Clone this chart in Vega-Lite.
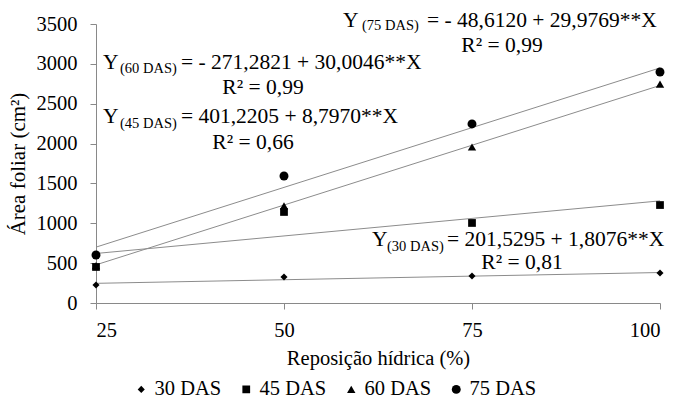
{
  "$schema": "https://vega.github.io/schema/vega-lite/v6.json",
  "width": 564,
  "height": 279,
  "autosize": {"type": "none"},
  "padding": {"left": 96, "top": 24, "right": 18, "bottom": 95},
  "background": "white",
  "config": {
    "view": {"stroke": null},
    "font": "Liberation Serif",
    "text": {"font": "Liberation Serif", "color": "black"},
    "legend": {"labelFont": "Liberation Serif", "labelFontSize": 20.5, "labelColor": "black"},
    "axis": {"grid": false, "labelFont": "Liberation Serif", "titleFont": "Liberation Serif", "labelColor": "black", "titleColor": "black", "titleFontWeight": "normal", "domainColor": "#898989", "tickColor": "#898989", "tickSize": 6}
  },
  "datasets": {
    "pontos": [
      {"rep": 25, "area": 470, "serie": "60 DAS"},
      {"rep": 50, "area": 1217, "serie": "60 DAS"},
      {"rep": 75, "area": 1957, "serie": "60 DAS"},
      {"rep": 100, "area": 2745, "serie": "60 DAS"},
      {"rep": 25, "area": 226, "serie": "30 DAS"},
      {"rep": 50, "area": 326, "serie": "30 DAS"},
      {"rep": 75, "area": 339, "serie": "30 DAS"},
      {"rep": 100, "area": 376, "serie": "30 DAS"},
      {"rep": 25, "area": 452, "serie": "45 DAS"},
      {"rep": 50, "area": 1142, "serie": "45 DAS"},
      {"rep": 75, "area": 1004, "serie": "45 DAS"},
      {"rep": 100, "area": 1229, "serie": "45 DAS"},
      {"rep": 25, "area": 602, "serie": "75 DAS"},
      {"rep": 50, "area": 1593, "serie": "75 DAS"},
      {"rep": 75, "area": 2246, "serie": "75 DAS"},
      {"rep": 100, "area": 2898, "serie": "75 DAS"}
    ],
    "linhas": [
      {"rep": 25, "area": 246.7, "serie": "30 DAS"},
      {"rep": 100, "area": 382.3, "serie": "30 DAS"},
      {"rep": 25, "area": 621.2, "serie": "45 DAS"},
      {"rep": 100, "area": 1281.2, "serie": "45 DAS"},
      {"rep": 25, "area": 478.8, "serie": "60 DAS"},
      {"rep": 100, "area": 2729.2, "serie": "60 DAS"},
      {"rep": 25, "area": 700.8, "serie": "75 DAS"},
      {"rep": 100, "area": 2949.1, "serie": "75 DAS"}
    ],
    "eq": [
      {"yx": 61.702, "subx": 63.697, "restx": 71.676, "ybase": 708.8, "ysub": 658.6, "sub": "(30 DAS)", "rest": "= 201,5295 + 1,8076**X"},
      {"yx": 25.931, "subx": 28.191, "restx": 36.303, "ybase": 2251.8, "ysub": 2201.6, "sub": "(45 DAS)", "rest": "= 401,2205 + 8,7970**X"},
      {"yx": 25.931, "subx": 28.191, "restx": 36.303, "ybase": 2935.5, "ysub": 2885.3, "sub": "(60 DAS)", "rest": "= - 271,2821 + 30,0046**X"},
      {"yx": 57.846, "subx": 60.372, "restx": 69.016, "ybase": 3468.6, "ysub": 3424.7, "sub": "(75 DAS)", "rest": "= - 48,6120 + 29,9769**X"}
    ],
    "r2": [
      {"rx": 81.649, "ry": 420.3, "r2": "R² = 0,81"},
      {"rx": 45.878, "ry": 1925.7, "r2": "R² = 0,66"},
      {"rx": 47.207, "ry": 2615.6, "r2": "R² = 0,99"},
      {"rx": 78.989, "ry": 3155.0, "r2": "R² = 0,99"}
    ]
  },
  "encoding": {
    "x": {"type": "quantitative", "scale": {"domain": [25, 100], "nice": false, "zero": false},
      "axis": {"values": [25, 50, 75, 100], "title": "Reposição hídrica (%)", "labelFontSize": 20.5, "labelBaseline": "alphabetic", "labelPadding": 27, "titleFontSize": 20.5, "titleBaseline": "alphabetic", "titleX": 282, "titleY": 61, "titleAnchor": "middle"}},
    "y": {"type": "quantitative", "scale": {"domain": [0, 3500], "nice": false},
      "axis": {"values": [0, 500, 1000, 1500, 2000, 2500, 3000, 3500], "format": "d", "title": "Área foliar (cm²)", "labelFontSize": 20.5, "labelPadding": 13, "titleFontSize": 21, "titleAngle": -90, "titleX": -78, "titleY": 139.5, "titleAlign": "center", "titleBaseline": "middle"}}
  },
  "layer": [
    {
      "data": {"name": "linhas"},
      "mark": {"type": "line", "color": "#8c8c8c", "strokeWidth": 1},
      "encoding": {
        "x": {"field": "rep"},
        "y": {"field": "area"},
        "detail": {"field": "serie"}
      }
    },
    {
      "data": {"name": "pontos"},
      "mark": {"type": "point", "filled": true, "color": "black", "opacity": 1},
      "encoding": {
        "x": {"field": "rep"},
        "y": {"field": "area"},
        "shape": {"field": "serie", "type": "ordinal",
          "scale": {"domain": ["30 DAS", "45 DAS", "60 DAS", "75 DAS"], "range": ["diamond", "square", "triangle-up", "circle"]},
          "legend": {"title": null, "orient": "none", "direction": "horizontal", "legendX": 35, "legendY": 355, "labelFontSize": 20.5, "labelFont": "Liberation Serif", "labelColor": "black", "labelLimit": 0, "symbolFillColor": "black", "symbolStrokeColor": "black", "symbolOpacity": 1, "labelOffset": 3, "columnPadding": 14, "padding": 0}},
        "size": {"field": "serie", "type": "ordinal",
          "scale": {"domain": ["30 DAS", "45 DAS", "60 DAS", "75 DAS"], "range": [50, 80, 60, 64]},
          "legend": {"title": null, "orient": "none", "direction": "horizontal", "legendX": 35, "legendY": 355, "labelFontSize": 20.5, "labelFont": "Liberation Serif", "labelColor": "black", "labelLimit": 0, "symbolFillColor": "black", "symbolStrokeColor": "black", "symbolOpacity": 1, "labelOffset": 3, "columnPadding": 14, "padding": 0}}
      }
    },
    {
      "data": {"name": "eq"},
      "mark": {"type": "text", "align": "left", "baseline": "alphabetic", "fontSize": 21.5},
      "encoding": {
        "x": {"field": "yx"},
        "y": {"field": "ybase"},
        "text": {"value": "Y"}
      }
    },
    {
      "data": {"name": "eq"},
      "mark": {"type": "text", "align": "left", "baseline": "alphabetic", "fontSize": 14.5},
      "encoding": {
        "x": {"field": "subx"},
        "y": {"field": "ysub"},
        "text": {"field": "sub"}
      }
    },
    {
      "data": {"name": "eq"},
      "mark": {"type": "text", "align": "left", "baseline": "alphabetic", "fontSize": 21.5},
      "encoding": {
        "x": {"field": "restx"},
        "y": {"field": "ybase"},
        "text": {"field": "rest"}
      }
    },
    {
      "data": {"name": "r2"},
      "mark": {"type": "text", "align": "center", "baseline": "alphabetic", "fontSize": 21.5},
      "encoding": {
        "x": {"field": "rx"},
        "y": {"field": "ry"},
        "text": {"field": "r2"}
      }
    }
  ]
}
